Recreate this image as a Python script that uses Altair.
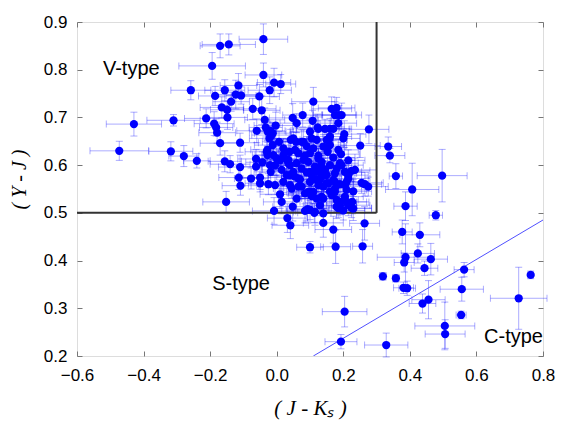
import altair as alt
import pandas as pd

# (J-Ks, Y-J, err J-Ks, err Y-J)
v_region = [
    (-0.040, 0.864, 0.073, 0.032), (-0.170, 0.850, 0.060, 0.025), (-0.144, 0.853, 0.080, 0.022),
    (-0.194, 0.808, 0.100, 0.028), (-0.040, 0.789, 0.055, 0.025), (-0.008, 0.773, 0.050, 0.030),
    (0.012, 0.770, 0.045, 0.020), (-0.258, 0.757, 0.060, 0.020), (-0.156, 0.757, 0.060, 0.022),
    (-0.115, 0.767, 0.055, 0.025), (-0.021, 0.757, 0.065, 0.028), (-0.185, 0.745, 0.050, 0.020),
    (-0.123, 0.748, 0.070, 0.030), (-0.107, 0.746, 0.045, 0.018), (-0.052, 0.744, 0.060, 0.025),
    (-0.137, 0.733, 0.055, 0.020), (-0.165, 0.721, 0.065, 0.022), (-0.149, 0.716, 0.050, 0.018),
    (-0.148, 0.700, 0.060, 0.025), (-0.072, 0.718, 0.070, 0.022), (-0.045, 0.715, 0.055, 0.030),
    (-0.429, 0.686, 0.083, 0.025), (-0.310, 0.694, 0.080, 0.012), (-0.212, 0.698, 0.065, 0.020),
    (-0.188, 0.687, 0.060, 0.025), (-0.182, 0.679, 0.050, 0.018), (-0.179, 0.668, 0.055, 0.022),
    (-0.036, 0.695, 0.060, 0.025), (-0.033, 0.679, 0.050, 0.020), (-0.003, 0.683, 0.065, 0.028),
    (-0.020, 0.672, 0.045, 0.018), (-0.012, 0.667, 0.055, 0.022), (-0.060, 0.672, 0.060, 0.025),
    (0.048, 0.699, 0.070, 0.030), (0.060, 0.688, 0.050, 0.020), (0.078, 0.705, 0.060, 0.025),
    (0.108, 0.693, 0.055, 0.022), (0.123, 0.679, 0.065, 0.028), (-0.473, 0.630, 0.088, 0.020),
    (-0.318, 0.629, 0.066, 0.020), (-0.279, 0.619, 0.045, 0.022), (-0.240, 0.609, 0.040, 0.015),
    (-0.170, 0.646, 0.060, 0.025), (-0.110, 0.647, 0.055, 0.020), (-0.156, 0.608, 0.050, 0.022),
    (-0.140, 0.602, 0.060, 0.018), (-0.110, 0.596, 0.065, 0.025), (-0.062, 0.613, 0.055, 0.020),
    (-0.043, 0.606, 0.050, 0.022), (-0.062, 0.597, 0.045, 0.018), (-0.022, 0.656, 0.060, 0.025),
    (-0.012, 0.642, 0.055, 0.020), (0.007, 0.649, 0.050, 0.022), (-0.030, 0.628, 0.065, 0.025),
    (-0.028, 0.621, 0.045, 0.018), (-0.010, 0.621, 0.055, 0.020), (0.000, 0.614, 0.060, 0.025),
    (-0.020, 0.600, 0.050, 0.022), (-0.005, 0.599, 0.065, 0.020), (-0.114, 0.574, 0.060, 0.025),
    (-0.109, 0.557, 0.055, 0.020), (-0.077, 0.572, 0.050, 0.022), (-0.050, 0.574, 0.065, 0.025),
    (-0.050, 0.562, 0.045, 0.018), (-0.025, 0.560, 0.060, 0.022), (-0.005, 0.558, 0.055, 0.020),
    (-0.018, 0.586, 0.050, 0.025), (0.010, 0.539, 0.060, 0.030), (0.015, 0.523, 0.055, 0.025),
    (-0.008, 0.504, 0.065, 0.028), (-0.152, 0.523, 0.070, 0.022), (-0.027, 0.670, 0.055, 0.022),
    (-0.015, 0.663, 0.060, 0.025), (-0.028, 0.632, 0.050, 0.020),
]

core = [
    (0.020, 0.635, 0.055, 0.020), (0.038, 0.628, 0.060, 0.025), (0.042, 0.653, 0.050, 0.022),
    (0.058, 0.649, 0.065, 0.020), (0.080, 0.649, 0.055, 0.025), (0.105, 0.656, 0.060, 0.022),
    (0.120, 0.653, 0.050, 0.018), (0.015, 0.590, 0.060, 0.025), (0.030, 0.579, 0.055, 0.020),
    (0.035, 0.604, 0.065, 0.022), (0.060, 0.604, 0.050, 0.025), (0.050, 0.586, 0.060, 0.020),
    (0.055, 0.576, 0.055, 0.022), (0.075, 0.593, 0.065, 0.025), (0.080, 0.611, 0.050, 0.018),
    (0.100, 0.625, 0.060, 0.022), (0.110, 0.635, 0.055, 0.025), (0.095, 0.607, 0.065, 0.020),
    (0.115, 0.597, 0.050, 0.022), (0.105, 0.579, 0.060, 0.025), (0.120, 0.586, 0.055, 0.020),
    (0.100, 0.565, 0.065, 0.022), (0.048, 0.513, 0.060, 0.030), (0.085, 0.504, 0.055, 0.025),
    (0.115, 0.502, 0.065, 0.028), (0.085, 0.541, 0.050, 0.022), (0.110, 0.544, 0.060, 0.025),
    (0.065, 0.555, 0.055, 0.020), (0.040, 0.558, 0.065, 0.022), (0.032, 0.489, 0.060, 0.030),
    (0.041, 0.474, 0.055, 0.028), (0.110, 0.733, 0.065, 0.030), (0.165, 0.718, 0.060, 0.025),
    (0.180, 0.720, 0.055, 0.022), (0.175, 0.705, 0.065, 0.028), (0.187, 0.705, 0.050, 0.020),
    (0.195, 0.705, 0.060, 0.025), (0.185, 0.688, 0.055, 0.022), (0.125, 0.676, 0.065, 0.025),
    (0.145, 0.676, 0.050, 0.020), (0.160, 0.676, 0.060, 0.022), (0.170, 0.676, 0.055, 0.025),
    (0.203, 0.665, 0.065, 0.028), (0.200, 0.656, 0.050, 0.020), (0.277, 0.675, 0.060, 0.030),
    (0.157, 0.653, 0.055, 0.022), (0.140, 0.639, 0.065, 0.025), (0.153, 0.628, 0.050, 0.020),
    (0.185, 0.632, 0.060, 0.022), (0.193, 0.623, 0.055, 0.025), (0.170, 0.616, 0.065, 0.020),
    (0.251, 0.641, 0.060, 0.025), (0.135, 0.607, 0.050, 0.022), (0.133, 0.600, 0.060, 0.025),
    (0.180, 0.593, 0.055, 0.020), (0.175, 0.583, 0.065, 0.022), (0.205, 0.586, 0.050, 0.025),
    (0.215, 0.579, 0.060, 0.020), (0.225, 0.588, 0.055, 0.022), (0.235, 0.590, 0.065, 0.025),
    (0.210, 0.565, 0.050, 0.020), (0.135, 0.576, 0.060, 0.022), (0.150, 0.579, 0.055, 0.025),
    (0.155, 0.562, 0.065, 0.020), (0.125, 0.558, 0.050, 0.022), (0.140, 0.555, 0.060, 0.025),
    (0.175, 0.565, 0.055, 0.020), (0.255, 0.563, 0.065, 0.022), (0.265, 0.560, 0.050, 0.025),
    (0.275, 0.555, 0.060, 0.020), (0.175, 0.544, 0.055, 0.022), (0.180, 0.527, 0.065, 0.025),
    (0.190, 0.523, 0.050, 0.020), (0.210, 0.548, 0.060, 0.022), (0.205, 0.534, 0.055, 0.025),
    (0.140, 0.530, 0.065, 0.020), (0.140, 0.499, 0.050, 0.022), (0.180, 0.513, 0.060, 0.025),
    (0.185, 0.510, 0.055, 0.020), (0.215, 0.516, 0.065, 0.022), (0.227, 0.523, 0.050, 0.025),
    (0.225, 0.510, 0.060, 0.020), (0.105, 0.535, 0.055, 0.022), (0.093, 0.508, 0.065, 0.025),
    (0.113, 0.500, 0.050, 0.020), (0.140, 0.479, 0.060, 0.030), (0.170, 0.465, 0.055, 0.028),
    (0.264, 0.478, 0.045, 0.035), (0.100, 0.428, 0.040, 0.012), (0.177, 0.429, 0.045, 0.035),
    (0.258, 0.430, 0.030, 0.035), (0.020, 0.565, 0.055, 0.022), (0.065, 0.625, 0.060, 0.020),
    (0.030, 0.612, 0.050, 0.025), (0.085, 0.620, 0.060, 0.022), (0.125, 0.620, 0.055, 0.025),
    (0.145, 0.590, 0.065, 0.020), (0.160, 0.600, 0.050, 0.022), (0.090, 0.585, 0.060, 0.025),
    (0.070, 0.570, 0.055, 0.020), (0.130, 0.570, 0.065, 0.022), (0.160, 0.545, 0.050, 0.025),
    (0.120, 0.530, 0.060, 0.020), (0.060, 0.530, 0.055, 0.022), (0.040, 0.600, 0.065, 0.025),
    (0.010, 0.610, 0.050, 0.020), (0.190, 0.560, 0.060, 0.022), (0.230, 0.545, 0.055, 0.025),
    (0.195, 0.600, 0.065, 0.020), (0.215, 0.610, 0.050, 0.022), (0.100, 0.670, 0.060, 0.025),
    (0.090, 0.640, 0.055, 0.020), (0.160, 0.660, 0.065, 0.022),
]

core_extra = [
    (0.050, 0.656, 0.060, 0.022), (0.075, 0.649, 0.055, 0.025), (0.020, 0.621, 0.065, 0.020),
    (0.035, 0.611, 0.050, 0.022), (0.040, 0.579, 0.060, 0.025), (0.045, 0.551, 0.055, 0.020),
    (0.055, 0.632, 0.065, 0.022), (0.065, 0.572, 0.050, 0.025), (0.075, 0.555, 0.060, 0.020),
    (0.100, 0.586, 0.055, 0.022), (0.100, 0.544, 0.065, 0.025), (0.125, 0.614, 0.050, 0.020),
    (0.130, 0.586, 0.060, 0.022), (0.120, 0.569, 0.055, 0.025), (0.150, 0.562, 0.065, 0.020),
    (0.160, 0.642, 0.050, 0.022), (0.150, 0.653, 0.060, 0.025), (0.190, 0.604, 0.055, 0.020),
    (0.215, 0.572, 0.065, 0.022), (0.205, 0.558, 0.050, 0.025), (0.170, 0.569, 0.060, 0.020),
    (0.175, 0.551, 0.055, 0.022), (0.165, 0.537, 0.065, 0.025), (0.190, 0.516, 0.050, 0.020),
    (0.210, 0.523, 0.060, 0.022), (0.230, 0.509, 0.055, 0.025), (0.200, 0.505, 0.065, 0.020),
    (0.130, 0.516, 0.050, 0.022), (0.135, 0.534, 0.060, 0.025), (0.100, 0.506, 0.055, 0.020),
    (0.095, 0.544, 0.065, 0.022),
]

outside = [
    (0.335, 0.639, 0.040, 0.020), (0.340, 0.620, 0.045, 0.015), (0.358, 0.577, 0.020, 0.026),
    (0.497, 0.578, 0.075, 0.055), (0.407, 0.549, 0.080, 0.055), (0.387, 0.514, 0.035, 0.030),
    (0.478, 0.495, 0.020, 0.010), (0.377, 0.460, 0.030, 0.025), (0.430, 0.454, 0.060, 0.025),
    (0.387, 0.407, 0.085, 0.070), (0.383, 0.396, 0.030, 0.020), (0.424, 0.415, 0.050, 0.020),
    (0.463, 0.403, 0.050, 0.033), (0.444, 0.384, 0.040, 0.015), (0.319, 0.367, 0.010, 0.008),
    (0.358, 0.363, 0.010, 0.008), (0.563, 0.381, 0.030, 0.015), (0.763, 0.370, 0.008, 0.008),
    (0.381, 0.343, 0.030, 0.012), (0.392, 0.342, 0.025, 0.015), (0.556, 0.340, 0.065, 0.025),
    (0.456, 0.318, 0.050, 0.040), (0.438, 0.310, 0.040, 0.020), (0.727, 0.321, 0.085, 0.065),
    (0.554, 0.286, 0.015, 0.008), (0.505, 0.263, 0.090, 0.050), (0.506, 0.246, 0.060, 0.030),
    (0.204, 0.293, 0.067, 0.032), (0.193, 0.230, 0.048, 0.015), (0.329, 0.223, 0.065, 0.025),
]

# region boundaries and separating line
box_jk = 0.3
box_yj = 0.5
c_line_jk = [0.11, 0.80]
c_line_yj = [0.20, 0.485]

labels = ["V-type", "S-type", "C-type"]
label_jk = [-0.522, -0.194, 0.623]
label_yj = [0.801, 0.351, 0.240]

x_ticks = [-0.6, -0.4, -0.2, 0.0, 0.2, 0.4, 0.6, 0.8]
y_ticks = [0.2, 0.3, 0.4, 0.5, 0.6, 0.7, 0.8, 0.9]
x_domain = [-0.6, 0.8]
y_domain = [0.2, 0.9]

df = pd.DataFrame(v_region + core + core_extra + outside, columns=["jk", "yj", "ejk", "eyj"])
df["x_lo"] = df["jk"] - df["ejk"]
df["x_hi"] = df["jk"] + df["ejk"]
df["y_lo"] = df["yj"] - df["eyj"]
df["y_hi"] = df["yj"] + df["eyj"]

box_df = pd.DataFrame({
    "x": [x_domain[0], box_jk],
    "x2": [box_jk, box_jk],
    "y": [box_yj, box_yj],
    "y2": [box_yj, y_domain[1]],
})
line_df = pd.DataFrame({"x": [c_line_jk[0]], "x2": [c_line_jk[1]],
                        "y": [c_line_yj[0]], "y2": [c_line_yj[1]]})
lab_df = pd.DataFrame({"t": labels, "x": label_jk, "y": label_yj})

xs = alt.Scale(domain=x_domain, nice=False, zero=False)
ys = alt.Scale(domain=y_domain, nice=False, zero=False)

ERR = "#0000ff"
ERR_OP = 0.33


def tick_axis(orient, values):
    return alt.Axis(orient=orient, values=values, labels=False, domain=False, grid=False,
                    ticks=True, tickSize=5, tickColor="#777777", tickWidth=1,
                    offset=-5, title=None)


main_x = alt.Axis(values=x_ticks, format=".1f", labelFont="Liberation Sans", labelFontSize=17,
                  labelColor="black", labelPadding=11, labelFlush=False, labelOverlap=False,
                  ticks=False, domain=False, grid=False,
                  title="( J - Kₛ )", titleFont="Liberation Serif", titleFontStyle="italic",
                  titleFontWeight="normal", titleFontSize=21, titleColor="black",
                  titleY=52, titleBaseline="middle")
main_y = alt.Axis(values=y_ticks, format=".1f", labelFont="Liberation Sans", labelFontSize=17,
                  labelColor="black", labelPadding=10, labelFlush=False, labelOverlap=False,
                  ticks=False, domain=False, grid=False,
                  title="( Y - J )", titleFont="Liberation Serif", titleFontStyle="italic",
                  titleFontWeight="normal", titleFontSize=20, titleColor="black",
                  titleX=-58, titleY=157, titleAngle=270, titleAlign="center",
                  titleBaseline="middle")

base = alt.Chart(df)

xbars = base.mark_rule(color=ERR, opacity=ERR_OP, strokeWidth=1).encode(
    x=alt.X("x_lo:Q", scale=xs, axis=tick_axis("bottom", x_ticks)),
    x2="x_hi:Q",
    y=alt.Y("yj:Q", scale=ys, axis=tick_axis("left", y_ticks)),
)
ybars = base.mark_rule(color=ERR, opacity=ERR_OP, strokeWidth=1).encode(
    x=alt.X("jk:Q", scale=xs, axis=tick_axis("top", x_ticks)),
    y=alt.Y("y_lo:Q", scale=ys, axis=tick_axis("right", y_ticks)),
    y2="y_hi:Q",
)
xcaps = base.transform_fold(["x_lo", "x_hi"], as_=["k", "xv"]).mark_tick(
    orient="vertical", size=7, thickness=1, color=ERR, opacity=ERR_OP
).encode(
    x=alt.X("xv:Q", scale=xs, axis=None),
    y=alt.Y("yj:Q", scale=ys, axis=None),
)
ycaps = base.transform_fold(["y_lo", "y_hi"], as_=["k", "yv"]).mark_tick(
    orient="horizontal", size=7, thickness=1, color=ERR, opacity=ERR_OP
).encode(
    x=alt.X("jk:Q", scale=xs, axis=None),
    y=alt.Y("yv:Q", scale=ys, axis=None),
)

box = alt.Chart(box_df).mark_rule(color="#333333", strokeWidth=2).encode(
    x=alt.X("x:Q", scale=xs, axis=None), x2="x2:Q",
    y=alt.Y("y:Q", scale=ys, axis=None), y2="y2:Q",
)
cline = alt.Chart(line_df).mark_rule(color="#5050ff", strokeWidth=1, clip=True).encode(
    x=alt.X("x:Q", scale=xs, axis=None), x2="x2:Q",
    y=alt.Y("y:Q", scale=ys, axis=None), y2="y2:Q",
)

points = base.mark_circle(size=68, color="#0000ff", opacity=1).encode(
    x=alt.X("jk:Q", scale=xs, axis=main_x),
    y=alt.Y("yj:Q", scale=ys, axis=main_y),
)

texts = alt.Chart(lab_df).mark_text(
    font="Liberation Sans", fontSize=20, color="black", align="left", baseline="middle"
).encode(
    x=alt.X("x:Q", scale=xs, axis=None),
    y=alt.Y("y:Q", scale=ys, axis=None),
    text="t:N",
)

chart = alt.layer(xbars, ybars, xcaps, ycaps, cline, box, points, texts).resolve_axis(
    x="independent", y="independent"
).properties(
    width=466, height=334,
    autosize=alt.AutoSizeParams(type="none"),
    padding={"left": 69, "top": 14, "right": 20, "bottom": 70},
).configure_view(stroke="black", strokeWidth=1.2).configure(background="white")

chart.save("out.html", embed_options={"renderer": "svg", "actions": False})
